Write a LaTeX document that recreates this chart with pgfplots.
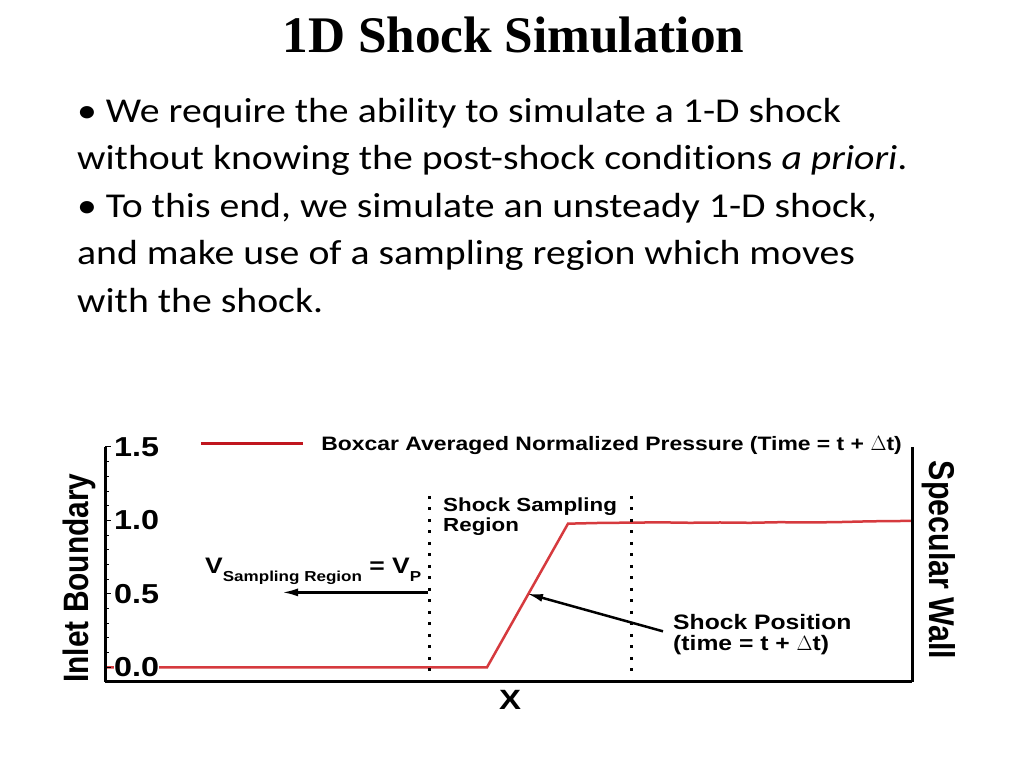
\documentclass[border=0pt]{standalone}
\usepackage{fontspec}
\setmainfont[FakeStretch=1.14, Ligatures=NoCommon]{Carlito}
\newfontfamily\titlefont{Liberation Serif}
\newfontfamily\chartfont[FakeStretch=1.18]{Liberation Sans}
\newfontfamily\rotfont{Liberation Sans}
\usepackage{pgfplots}
\pgfplotsset{compat=1.18}
\usetikzlibrary{arrows.meta}

\definecolor{plotred}{RGB}{214,58,62}
\definecolor{legred}{RGB}{192,22,30}

\begin{document}
\begin{tikzpicture}
\fill[white] (0,0) rectangle (1024bp,768bp);
\useasboundingbox (0,0) rectangle (1024bp,768bp);

% slide title and bullets
\node[anchor=base, inner sep=0pt] at (513.5bp,715bp)
  {\titlefont\bfseries\fontsize{51.5}{60}\selectfont 1D Shock Simulation};
\begin{scope}[every node/.style={anchor=base west, inner sep=0pt,
    font=\fontsize{35}{40}\selectfont}]
  \node at (77bp,645bp) {\textbullet\ We require the ability to simulate a 1-D shock};
  \node at (77bp,598bp) {without knowing the post-shock conditions \textit{a priori}.};
  \node at (77bp,550bp) {\textbullet\ To this end, we simulate an unsteady 1-D shock,};
  \node at (77bp,503bp) {and make use of a sampling region which moves};
  \node at (77bp,455bp) {with the shock.};
\end{scope}

% side labels
\node[xscale=1.18, rotate=90, anchor=base, inner sep=0pt,
  font=\rotfont\bfseries\fontsize{30}{34}\selectfont] at (88bp,190bp) {Inlet Boundary};
\node[xscale=1.18, rotate=-90, anchor=base, inner sep=0pt,
  font=\rotfont\bfseries\fontsize{30.5}{34}\selectfont] at (929bp,208bp) {Specular Wall};

\begin{axis}[
  at={(105bp,86bp)}, anchor=south west,
  scale only axis, width=807bp, height=235bp,
  xmin=105, xmax=912, ymin=-0.1, ymax=1.5,
  axis x line*=bottom, axis y line*=left,
  axis line style={line width=3bp, -},
  axis on top,
  clip=false,
  xtick=\empty,
  ytick={0,0.5,1,1.5}, yticklabels={0.0,0.5,1.0,1.5},
  minor ytick={0.1,0.2,0.3,0.4,0.6,0.7,0.8,0.9,1.1,1.2,1.3,1.4},
  tick align=inside, major tick length=6bp, minor tick length=4bp,
  tick style={line width=1bp, black},
  yticklabel style={anchor=west, xshift=9bp, inner sep=0pt, fill=white,
    font=\chartfont\bfseries\fontsize{27.5}{30}\selectfont},
  xlabel={X},
  xlabel style={at={(axis description cs:0.502,0)}, anchor=north, inner sep=0pt,
    yshift=-8bp, font=\chartfont\bfseries\fontsize{28}{32}\selectfont},
  legend style={at={(axis description cs:0.117,1.0128)}, anchor=west,
    draw=none, fill=none, inner sep=0pt, outer sep=0pt,
    font=\chartfont\bfseries\fontsize{19.5}{22}\selectfont,
    nodes={inner sep=0pt},
    /tikz/every odd column/.append style={column sep=17bp}},
  legend image code/.code={\draw[legred, line width=3bp] (0bp,0bp) -- (102bp,0bp);},
]
\addplot[plotred, line width=2.5bp] coordinates {
  (105,0) (487,0) (568,0.978) (600,0.983) (631,0.985) (660,0.987)
  (690,0.984) (720,0.986) (750,0.984) (780,0.988) (810,0.986)
  (840,0.989) (870,0.994) (912,0.997)
};
\addlegendentry{Boxcar Averaged Normalized Pressure (Time = t + $\Delta$t)}

% sampling region boundaries
\addplot[black, line width=3bp, dash pattern=on 3bp off 8.5bp, forget plot]
  coordinates {(429,1.168) (429,-0.1)};
\addplot[black, line width=3bp, dash pattern=on 3bp off 8.5bp, forget plot]
  coordinates {(631,1.168) (631,-0.1)};

% right wall
\draw[line width=3bp] (axis cs:912,-0.1) -- (axis cs:912,1.5);

% annotations
\draw[line width=2.5bp, -{Latex[length=16bp,width=8bp]}]
  (axis cs:428,0.51) -- (axis cs:282,0.51);
\draw[line width=2.5bp, -{Latex[length=16bp,width=8bp]}]
  (axis cs:663,0.245) -- (axis cs:527,0.502);

\begin{scope}[every node/.style={anchor=base west, inner sep=0pt}]
  \node[font=\chartfont\bfseries\fontsize{19}{22}\selectfont] at (axis cs:443,1.059) {Shock Sampling};
  \node[font=\chartfont\bfseries\fontsize{19}{22}\selectfont] at (axis cs:443,0.923) {Region};
  \node[font=\chartfont\bfseries\fontsize{21}{24}\selectfont] at (axis cs:673,0.258) {Shock Position};
  \node[font=\chartfont\bfseries\fontsize{21}{24}\selectfont] at (axis cs:673,0.115) {(time = t + $\Delta$t)};
  \node[font=\chartfont\bfseries\fontsize{22.5}{26}\selectfont] at (axis cs:205,0.638)
    {V{\fontsize{14.5}{16}\selectfont\raisebox{-8bp}{Sampling Region}} = V{\fontsize{14.5}{16}\selectfont\raisebox{-8bp}{P}}};
\end{scope}
\end{axis}
\end{tikzpicture}
\end{document}
